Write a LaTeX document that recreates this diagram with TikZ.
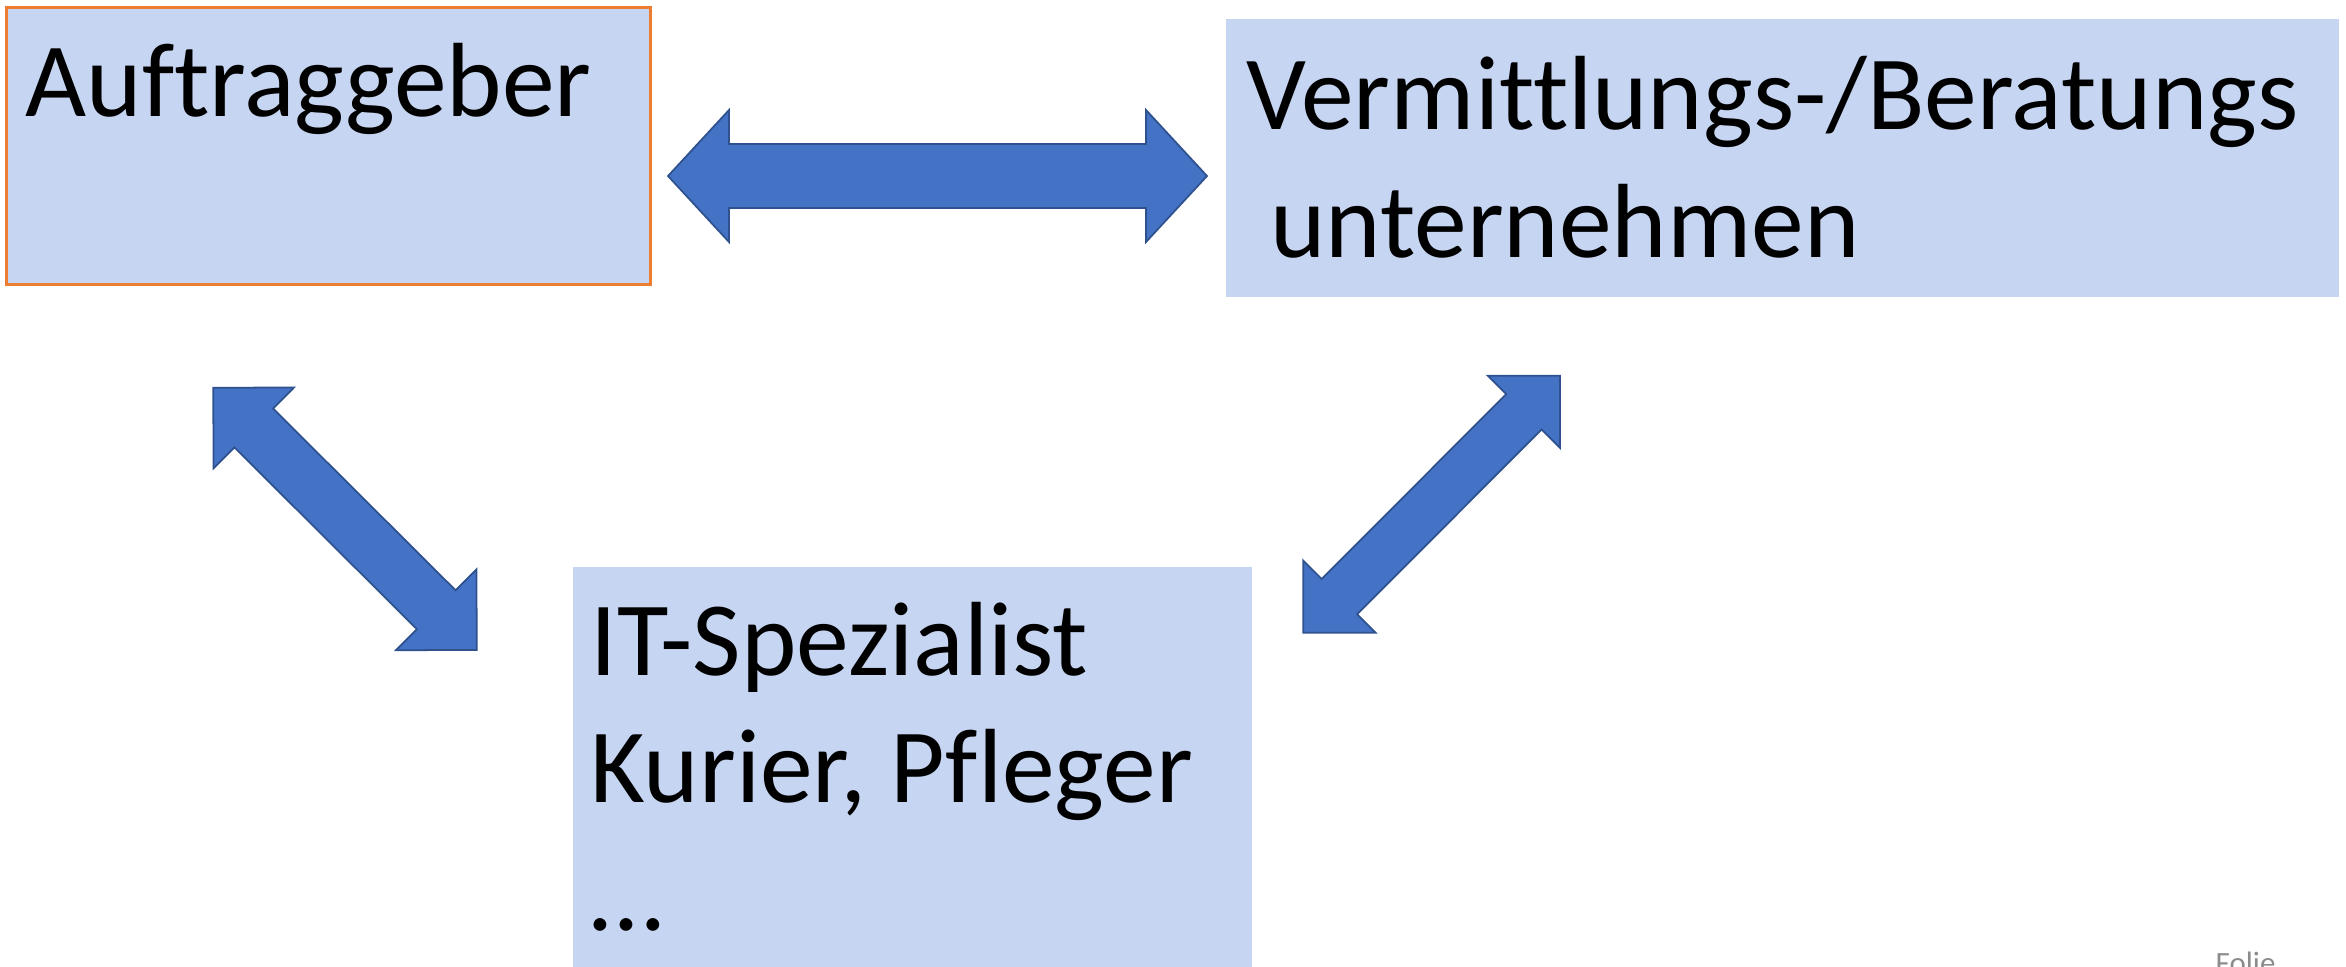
\documentclass[tikz,border=0pt]{standalone}
\usepackage{fontspec}
\setmainfont{Carlito}[Ligatures=NoCommon]
\usetikzlibrary{calc}
\definecolor{boxblue}{HTML}{C6D5F1}
\definecolor{orangeline}{HTML}{ED7D31}
\definecolor{arrowblue}{HTML}{4472C4}
\definecolor{arrowdark}{HTML}{2F528F}
\definecolor{foliegray}{HTML}{8C8C8C}

% double block arrow: tip, tip, head length, head half width, shaft half width
\newcommand{\dblarrow}[5]{%
  \filldraw[blockarrow] (#1)
    -- ($(#1)!#3!(#2)!#4!90:(#2)$) -- ($(#1)!#3!(#2)!#5!90:(#2)$)
    -- ($(#2)!#3!(#1)!#5!-90:(#1)$) -- ($(#2)!#3!(#1)!#4!-90:(#1)$)
    -- (#2)
    -- ($(#2)!#3!(#1)!#4!90:(#1)$) -- ($(#2)!#3!(#1)!#5!90:(#1)$)
    -- ($(#1)!#3!(#2)!#5!-90:(#2)$) -- ($(#1)!#3!(#2)!#4!-90:(#2)$)
    -- cycle;}

\begin{document}
\begin{tikzpicture}[x=0.01cm, y=-0.01cm,
  box/.style={rectangle, fill=boxblue, inner sep=0pt, anchor=north west},
  boxtext/.style={anchor=base west, align=left, inner sep=0pt, font=\fontsize{30pt}{36.2pt}\selectfont},
  blockarrow/.style={fill=arrowblue, draw=arrowdark, line width=0.5pt}]
\useasboundingbox (0,0) rectangle (2346,966);
\clip (0,0) rectangle (2346,966);

\node[box, draw=orangeline, line width=0.9pt, minimum width=6.44cm, minimum height=2.77cm] (auftraggeber) at (4.5,6) {};
\node[box, minimum width=11.13cm, minimum height=2.78cm] (vermittlung) at (1225,18) {};
\node[box, minimum width=6.79cm, minimum height=4.2cm] (spezialist) at (572,566) {};

% base west sits on the last line
\node[boxtext] (auftraggeber-text) at (25,116) {Auftraggeber};
\node[boxtext] (vermittlung-text) at (1246,257) {Vermittlungs-/Beratungs\\\mbox{} unternehmen};
\node[boxtext] (spezialist-text) at (590,930) {IT-Spezialist\\Kurier, Pfleger\\…};

\coordinate (auftr-right) at (668,176);
\coordinate (verm-left) at (1207,176);
\coordinate (auftr-below) at (213.3,387.7);
\coordinate (spez-left) at (476.7,650);
\coordinate (verm-below) at (1560,375.7);
\coordinate (spez-right) at (1303.3,632.7);

\dblarrow{auftr-right}{verm-left}{0.61cm}{0.66cm}{0.32cm}
\dblarrow{auftr-below}{spez-left}{0.57cm}{0.57cm}{0.274cm}
\dblarrow{verm-below}{spez-right}{0.51cm}{0.51cm}{0.25cm}

\node[anchor=base west, inner sep=0pt, text=foliegray, font=\fontsize{8.8pt}{10pt}\selectfont] (folie) at (2215,973) {Folie};
\end{tikzpicture}
\end{document}
